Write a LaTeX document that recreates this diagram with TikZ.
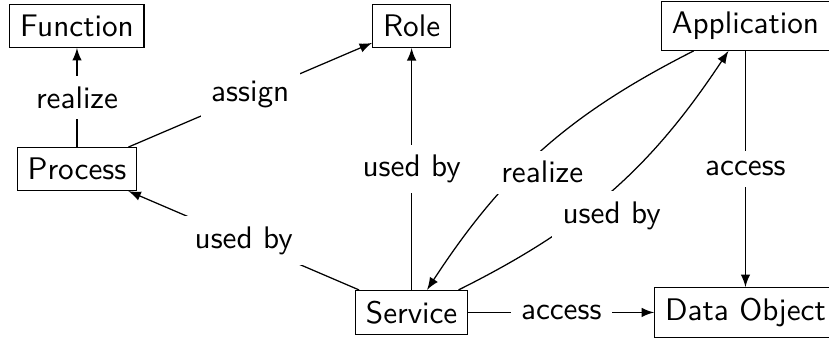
\documentclass[tikz,border=0pt]{standalone}
\usepackage{tikz}

\begin{document}
\begin{tikzpicture}[box/.style={draw, font=\sffamily}, lbl/.style={fill=white, font=\sffamily}, >=latex]
	\useasboundingbox (-0.867,0.293) rectangle (8.470,-3.536);
	% Elements
	\node[box] (function) at (0,0) {Function};
	\node[box] (role) at (3.769,0) {Role};
	\node[box] (application) at (7.529,0) {Application};
	\node[box] (process) at (0,-1.611) {Process};
	\node[box] (service) at (3.769,-3.226) {Service};
	\node[box] (dataobject) at (7.529,-3.226) {Data Object};
	% Straight relations
	\draw[->] (process) -- (function) node[lbl, midway] {realize};
	\draw[->] (process) -- (role) node[lbl, midway] {assign};
	\draw[->] (service) -- (process) node[lbl, midway] {used by};
	\draw[->] (service) -- (role) node[lbl, midway] {used by};
	\draw[->] (application) -- (dataobject) node[lbl, midway] {access};
	\draw[->] (service) -- (dataobject) node[lbl, midway] {access};
	% Curved relations
	\draw[->] (application) to[bend right=15] node[lbl, below] {realize} (service);
	\draw[->] (service) to[bend right=15] node[lbl, below] {used by} (application);
\end{tikzpicture}
\end{document}
